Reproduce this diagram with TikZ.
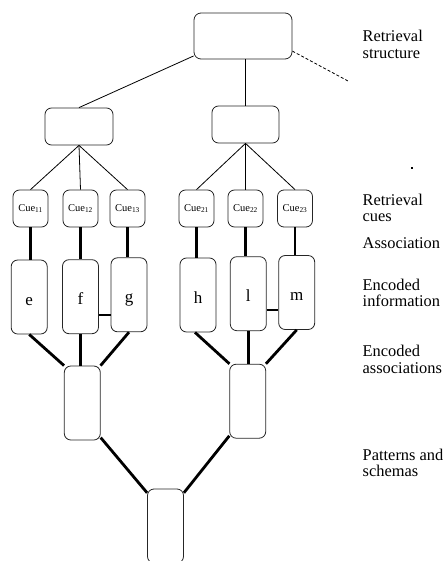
\documentclass[tikz,border=0pt]{standalone}
\usepackage{fontspec}
\setmainfont{Liberation Serif}
\begin{document}
\begin{tikzpicture}[x=1pt,y=-1pt]
\tikzset{
  bx/.style={draw=black!85, line width=0.8pt, rounded corners=6.5pt, inner sep=0pt,
    font=\fontsize{17}{16.7}\selectfont},
  cuebox/.style={bx, minimum width=35pt, minimum height=37pt, font=\fontsize{10.5}{11}\selectfont},
  encbox/.style={bx, minimum width=36pt, minimum height=74pt, text height=16pt, text depth=0pt},
  lnk/.style={line width=0.8pt},
  assoc/.style={line width=2.8pt},
  lab/.style={anchor=base west, align=left, inner sep=0pt, font=\fontsize{16.4}{16.7}\selectfont}
}
\useasboundingbox (0,0) rectangle (445,561);

% retrieval structure
\node[bx, minimum width=98pt, minimum height=46pt, rounded corners=7pt] (top) at (243,36) {};
\node[bx, minimum width=68pt, minimum height=37pt] (midL) at (79,126.5) {};
\node[bx, minimum width=67pt, minimum height=37pt] (midR) at (245.5,124.5) {};
\coordinate (dashend) at (348,81);

% cues
\node[cuebox] (c11) at (30.5,208.5) {Cue\textsubscript{11}};
\node[cuebox] (c12) at (80.5,208.5) {Cue\textsubscript{12}};
\node[cuebox] (c13) at (127.5,208.5) {Cue\textsubscript{13}};
\node[cuebox] (c21) at (196.5,208.5) {Cue\textsubscript{21}};
\node[cuebox] (c22) at (245.5,208.5) {Cue\textsubscript{22}};
\node[cuebox] (c23) at (295,208.5) {Cue\textsubscript{23}};

% encoded information
\node[encbox] (e) at (29.2,297) {e};
\node[encbox] (f) at (80.5,296.7) {f};
\node[encbox] (g) at (129,294.8) {g};
\node[encbox] (h) at (198,295) {h};
\node[encbox] (l) at (248.3,293.7) {l};
\node[encbox] (m) at (296.7,292.5) {m};

% patterns and schemas
\node[encbox] (pL) at (82.3,403) {};
\node[encbox] (pR) at (247.7,401.2) {};
\node[encbox] (pB) at (165.5,526) {};

% thin tree lines
\draw[lnk] (top.202) -- (midL.north);
\draw[lnk] (midR.north) -- (midR.north |- top.south);
\draw[lnk, dashed, dash pattern=on 3pt off 2pt] (top.-17) -- (dashend);
\foreach \c in {c11,c12,c13} \draw[lnk] (midL.south) -- (\c.north);
\foreach \c in {c21,c22,c23} \draw[lnk] (midR.south) -- (\c.north);

% associations cue -> encoded
\draw[assoc] (c11.south) -- (c11.south |- e.north);
\draw[assoc] (c12.south) -- (c12.south |- f.north);
\draw[assoc] (c13.south) -- (c13.south |- g.north);
\draw[assoc] (c21.south) -- (c21.south |- h.north);
\draw[assoc] (c22.south) -- (c22.south |- l.north);
\draw[assoc] (c23.south) -- (c23.south |- m.north);

% links between encoded items
\draw[assoc] ([yshift=-18.3pt]f.east) -- ([yshift=-18.3pt]f.east -| g.west);
\draw[assoc] ([yshift=-16.3pt]l.east) -- ([yshift=-16.3pt]l.east -| m.west);

% encoded associations
\draw[assoc] (e.south) -- (pL.116);
\draw[assoc] (f.south) -- (f.south |- pL.north);
\draw[assoc] (g.south) -- (pL.64);
\draw[assoc] ([xshift=-3pt]h.south) -- (pR.116);
\draw[assoc] (l.south) -- (l.south |- pR.north);
\draw[assoc] (m.south) -- (pR.64);
\draw[assoc] (pL.-62) -- (pB.119);
\draw[assoc] (pR.-118) -- (pB.61);

% small mark
\fill (411,167.5) rectangle (413,169);

% level labels (base = baseline of last line)
\node[lab] (l1) at (362.5,58.3) {Retrieval\\structure};
\node[lab] (l2) at (362.5,221.7) {Retrieval\\cues};
\node[lab] (l3) at (362.5,248.3) {Association};
\node[lab] (l4) at (362.5,306.7) {Encoded\\information};
\node[lab] (l5) at (362.5,373.3) {Encoded\\associations};
\node[lab] (l6) at (362.5,476.7) {Patterns and\\schemas};
\end{tikzpicture}
\end{document}
